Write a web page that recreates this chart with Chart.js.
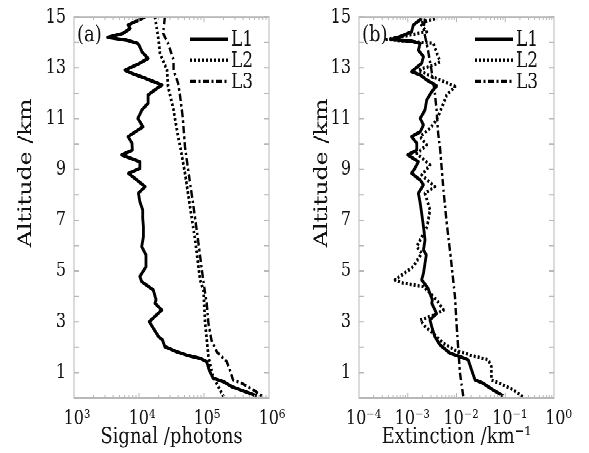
<!DOCTYPE html>
<html>
<head>
<meta charset="utf-8">
<script src="https://cdn.jsdelivr.net/npm/chart.js@4.4.1/dist/chart.umd.min.js"></script>
<style>
  html, body { margin: 0; padding: 0; background: #ffffff; }
  #page { position: relative; width: 589px; height: 453px; overflow: hidden; background: #ffffff; }
  #wrap { position: absolute; left: 0; top: 0; width: 589px; height: 362px; transform-origin: 0 0; }
  canvas { position: absolute; top: 0; }
</style>
</head>
<body>
<div id="page">
  <div id="wrap">
    <canvas id="ca" width="285" height="362" style="left:0px"></canvas>
    <canvas id="cb" width="304" height="362" style="left:285px"></canvas>
  </div>
</div>
<script>
// ---------------- data ----------------
const SERIES_LABELS = ['L1', 'L2', 'L3'];
const Y_TITLE = 'Altitude /km';
const Y_TICKS = [0,1,2,3,4,5,6,7,8,9,10,11,12,13,14,15];

// Panel (a): Signal /photons
const A_L1_ALT = [15.0,14.69,14.55,14.36,14.2,14.09,13.96,13.83,13.63,13.37,13.18,12.91,12.78,12.59,12.32,12.19,11.93,11.6,11.34,11.01,10.68,10.29,10.03,9.76,9.57,9.3,9.04,8.84,8.64,8.32,8.06,7.73,7.4,7.07,6.75,6.35,5.96,5.63,5.17,4.78,4.58,4.25,3.86,3.73,3.46,3.0,2.41,2.28,2.02,1.82,1.69,1.56,1.43,1.1,0.78,0.64,0.44,0.25,0.08];
const A_L1_VAL = [1.24e4,6.8e3,7.3e3,5.7e3,3.3e3,6.5e3,9.6e3,1.03e4,1.11e4,1.38e4,1.03e4,6.1e3,7.8e3,1.24e4,2.26e4,1.89e4,1.38e4,1.38e4,1.11e4,9.6e3,1.15e4,6.8e3,7.8e3,7.9e3,5.4e3,1.03e4,1.03e4,6.9e3,8.7e3,1.24e4,9.8e3,1.03e4,1.14e4,1.14e4,1.17e4,1.17e4,1.1e4,1.28e4,1.28e4,1.03e4,1.1e4,1.66e4,1.83e4,1.76e4,2.24e4,1.44e4,2.0e4,2.3e4,2.5e4,3.8e4,5.4e4,8.7e4,1.1e5,1.2e5,1.38e5,2.0e5,2.7e5,4.3e5,6.5e5];
const A_L2_ALT = [15.0,14.09,13.57,12.91,12.26,11.34,10.29,9.9,8.85,7.53,6.22,4.65,4.25,2.94,1.63,0.84,0.05];
const A_L2_VAL = [1.76e4,2.0e4,2.1e4,2.7e4,2.8e4,3.4e4,4.0e4,4.3e4,5.1e4,6.1e4,7.3e4,8.7e4,9.8e4,1.04e5,1.17e5,1.38e5,2.0e5];
const A_L3_ALT = [15.0,14.36,13.96,13.31,12.91,12.39,11.86,11.07,9.89,8.85,7.53,6.22,4.65,3.73,2.94,2.28,1.82,1.43,1.1,0.71,0.58,0.31,0.05];
const A_L3_VAL = [2.5e4,2.35e4,2.8e4,3.4e4,3.4e4,4.0e4,4.3e4,4.7e4,5.1e4,5.8e4,6.9e4,8.1e4,9.7e4,1.1e5,1.17e5,1.3e5,1.57e5,2.24e5,2.5e5,2.8e5,3.8e5,5.8e5,8.1e5];
const A_X_TICKS = [1e3, 1e4, 1e5, 1e6];

// Panel (b): Extinction /km^-1
const B_L1_ALT = [14.94,14.69,14.42,14.2,14.12,14.05,13.96,13.7,13.44,13.18,12.85,12.72,12.52,12.28,12.06,11.73,11.34,11.01,10.75,10.48,10.29,10.03,9.76,9.57,9.3,9.04,8.85,8.58,8.39,8.06,7.67,7.27,6.75,6.22,5.83,5.63,4.91,4.65,4.32,3.86,3.73,3.33,3.07,2.81,2.41,2.09,1.76,1.63,1.5,1.1,0.71,0.58,0.31,0.08];
const B_L1_VAL = [1.93e-3,1.3e-3,1.2e-3,6.5e-4,4.4e-4,1.2e-3,1.8e-3,1.65e-3,2.1e-3,1.93e-3,1.2e-3,1.8e-3,2.45e-3,3.9e-3,3.1e-3,2.45e-3,2.26e-3,1.8e-3,2.1e-3,1.8e-3,1.2e-3,1.53e-3,1.53e-3,1.0e-3,1.65e-3,1.4e-3,1.2e-3,1.8e-3,2.1e-3,1.65e-3,1.8e-3,1.93e-3,2.1e-3,2.26e-3,2.1e-3,2.4e-3,2.1e-3,1.93e-3,2.6e-3,3.2e-3,3.1e-3,3.9e-3,2.86e-3,3.1e-3,3.6e-3,4.6e-3,7.4e-3,1.18e-2,1.74e-2,2.04e-2,2.4e-2,3.5e-2,5.7e-2,9.1e-2];
const B_L2_ALT = [14.94,14.75,14.42,14.12,13.96,13.24,13.11,12.91,12.72,12.52,12.26,11.93,11.6,10.94,10.62,10.29,9.96,9.63,9.17,8.78,8.32,8.06,7.4,6.75,5.96,5.7,5.17,4.65,4.54,4.38,4.12,3.86,3.46,3.27,3.07,2.81,2.41,2.15,1.89,1.69,1.5,1.23,0.71,0.51,0.31,0.03];
const B_L2_VAL = [3.6e-3,1.8e-3,2.45e-3,3.7e-4,3.35e-3,4.6e-3,3.35e-3,1.65e-3,2.6e-3,4.6e-3,9.3e-3,6.3e-3,5.4e-3,3.9e-3,2.86e-3,1.8e-3,2.45e-3,1.53e-3,2.86e-3,1.93e-3,3.6e-3,2.26e-3,2.86e-3,2.5e-3,1.53e-3,1.93e-3,1.3e-3,5.5e-4,7.5e-4,2.1e-3,2.86e-3,3.9e-3,5.4e-3,3.6e-3,1.8e-3,2.26e-3,3.9e-3,5.4e-3,9.3e-3,1.9e-2,4.5e-2,5.2e-2,5.2e-2,9.1e-2,0.148,0.234];
const B_L3_ALT = [14.94,14.55,13.7,12.85,12.0,11.34,10.42,9.83,8.19,6.88,5.56,3.99,2.94,1.89,0.97,0.05];
const B_L3_VAL = [2.26e-3,2.1e-3,2.6e-3,3.1e-3,3.6e-3,3.9e-3,4.2e-3,4.6e-3,5.4e-3,6.3e-3,7.6e-3,9.3e-3,1.0e-2,1.09e-2,1.18e-2,1.38e-2];
const B_X_TICKS = [1e-4, 1e-3, 1e-2, 1e-1, 1e0];

// ---------------- styling ----------------
const STRETCH = 453 / 362;
document.getElementById('wrap').style.transform = 'scaleY(' + STRETCH + ')';
const FONT = 'DejaVu Serif';
const FRAME = '#b8b8b8';
const INK = '#111111';
const STYLES = [
  { borderDash: [], borderWidth: 2.8 },
  { borderDash: [2, 2], borderWidth: 2.7 },
  { borderDash: [6, 2.5, 2, 2.5], borderWidth: 2.4 }
];

const SUP = {'-':'\u207B','0':'\u2070','1':'\u00B9','2':'\u00B2','3':'\u00B3','4':'\u2074','5':'\u2075','6':'\u2076','7':'\u2077','8':'\u2078','9':'\u2079'};
function powLabel(v) {
  const e = Math.round(Math.log10(v));
  return '10' + String(e).split('').map(c => SUP[c]).join('');
}
function pts(alts, vals) { return alts.map((a, i) => ({ x: vals[i], y: a })); }

const framePlugin = {
  id: 'frame',
  afterDatasetsDraw(chart) {
    const { ctx, chartArea: a, scales: { x, y } } = chart;
    ctx.save();
    ctx.strokeStyle = FRAME;
    ctx.lineWidth = 1;
    ctx.strokeRect(a.left, a.top, a.right - a.left, a.bottom - a.top);
    ctx.beginPath();
    Y_TICKS.forEach(v => {
      const py = y.getPixelForValue(v);
      ctx.moveTo(a.left, py); ctx.lineTo(a.left + 5, py);
      ctx.moveTo(a.right, py); ctx.lineTo(a.right - 5, py);
    });
    const e0 = Math.round(Math.log10(x.min)), e1 = Math.round(Math.log10(x.max));
    for (let e = e0; e <= e1; e++) {
      for (let k = 1; k <= 9; k++) {
        const v = k * Math.pow(10, e);
        if (v > x.max * 1.0001) break;
        const px = x.getPixelForValue(v);
        const len = k === 1 ? 4 : 2.4;
        ctx.moveTo(px, a.bottom); ctx.lineTo(px, a.bottom - len);
        ctx.moveTo(px, a.top); ctx.lineTo(px, a.top + len);
      }
    }
    ctx.stroke();
    ctx.restore();
  },
  afterDraw(chart) {
    const { ctx, chartArea: a } = chart;
    const opts = chart.options.plugins.frame;
    ctx.save();
    ctx.fillStyle = INK;
    // y-axis title
    ctx.save();
    ctx.translate(opts.titleX, 173 / STRETCH);
    ctx.rotate(-Math.PI / 2);
    ctx.textAlign = 'center';
    ctx.textBaseline = 'middle';
    ctx.font = '19px "' + FONT + '"';
    ctx.fillText(Y_TITLE, 0, 0);
    ctx.restore();
    // panel label
    ctx.font = '18px "' + FONT + '"';
    ctx.textBaseline = 'middle';
    ctx.textAlign = 'left';
    ctx.fillText(opts.panel, a.left + 3, a.top + 14.5);
    // legend
    chart.data.datasets.forEach((ds, i) => {
      const yy = a.top + 17.5 + i * 17;
      ctx.beginPath();
      ctx.setLineDash(ds.borderDash || []);
      ctx.lineWidth = ds.borderWidth;
      ctx.strokeStyle = ds.borderColor;
      ctx.moveTo(a.right - 79, yy);
      ctx.lineTo(a.right - 41, yy);
      ctx.stroke();
      ctx.setLineDash([]);
      ctx.font = '17px "' + FONT + '"';
      ctx.fillText(ds.label, a.right - 38, yy + 1);
    });
    ctx.restore();
  }
};

function makeChart(id, panel, series, xMin, xMax, xTicks, xTitle, padRight, labelOffset, titleX) {
  const datasets = series.map((s, i) => ({
    label: SERIES_LABELS[i],
    data: pts(s[0], s[1]),
    showLine: true,
    pointRadius: 0,
    borderColor: '#000000',
    borderWidth: STYLES[i].borderWidth,
    borderDash: STYLES[i].borderDash,
    borderCapStyle: 'butt',
    borderJoinStyle: 'round',
    tension: 0,
    fill: false
  }));
  return new Chart(document.getElementById(id), {
    type: 'scatter',
    data: { datasets },
    options: {
      responsive: false,
      animation: false,
      devicePixelRatio: 2,
      layout: { padding: { left: 0, right: padRight, top: 13.6, bottom: 0 } },
      plugins: { legend: { display: false }, tooltip: { enabled: false }, frame: { panel, titleX } },
      scales: {
        x: {
          type: 'logarithmic',
          min: xMin, max: xMax,
          afterBuildTicks(s) { s.ticks = xTicks.map(v => ({ value: v })); },
          afterFit(s) { s.height = 44; s.paddingLeft = 0; s.paddingRight = 0; },
          grid: { display: false, drawTicks: false },
          border: { display: false },
          ticks: {
            autoSkip: false, maxRotation: 0, minRotation: 0, padding: 7,
            labelOffset: labelOffset,
            color: INK, font: { family: FONT, size: 16 },
            callback: (v) => powLabel(v)
          },
          title: { display: true, text: xTitle, color: INK, font: { family: FONT, size: 18 }, padding: { top: 0, bottom: 2 } }
        },
        y: {
          type: 'linear',
          min: 0, max: 15,
          afterBuildTicks(s) { s.ticks = Y_TICKS.map(v => ({ value: v })); },
          afterFit(s) { s.width = 74; s.paddingTop = 0; s.paddingBottom = 0; },
          grid: { display: false, drawTicks: false },
          border: { display: false },
          ticks: {
            autoSkip: false, padding: 8,
            color: INK, font: { family: FONT, size: 16 },
            callback: (v) => (v % 2 === 1 ? String(v) : '')
          },
          title: { display: false }
        }
      }
    },
    plugins: [framePlugin]
  });
}

makeChart('ca', '(a)', [[A_L1_ALT, A_L1_VAL], [A_L2_ALT, A_L2_VAL], [A_L3_ALT, A_L3_VAL]],
  1e3, 1e6, A_X_TICKS, 'Signal /photons', 16, 3, 26);
makeChart('cb', '(b)', [[B_L1_ALT, B_L1_VAL], [B_L2_ALT, B_L2_VAL], [B_L3_ALT, B_L3_VAL]],
  1e-4, 1e0, B_X_TICKS, 'Extinction /km\u207B\u00B9', 35, 4.5, 37);
</script>
</body>
</html>
